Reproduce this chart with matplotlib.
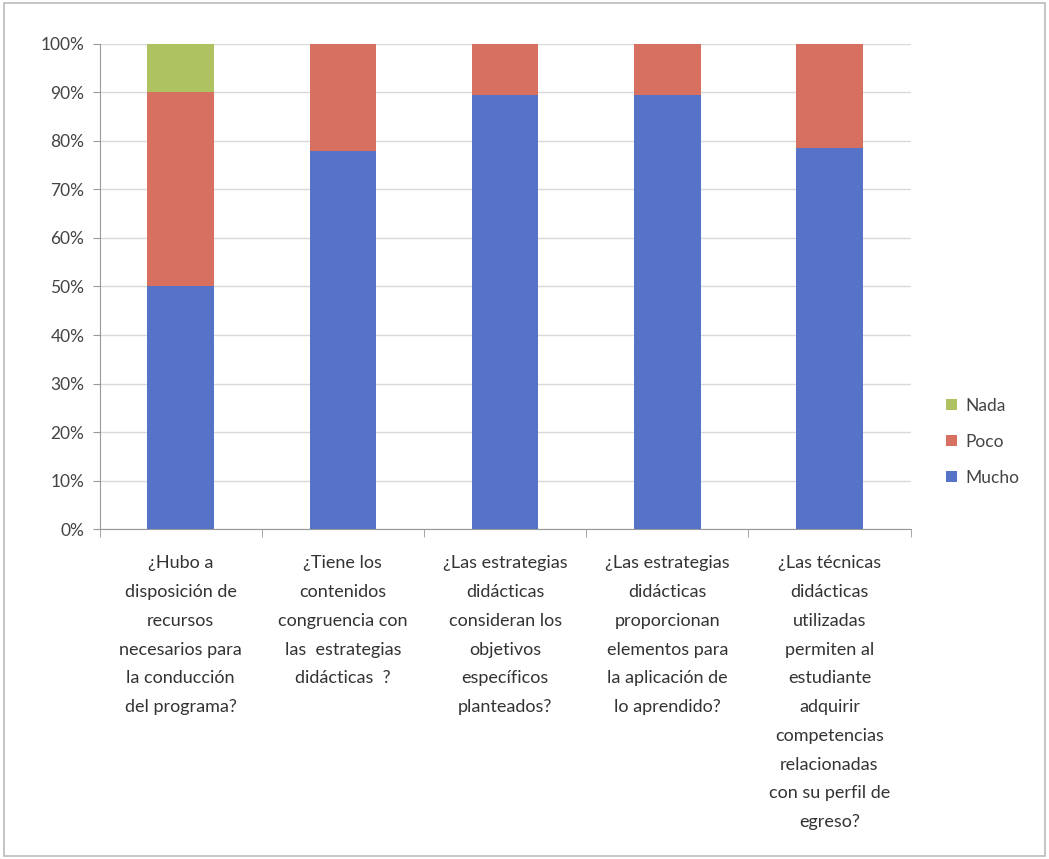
import numpy as np
import matplotlib
matplotlib.use('Agg')
from matplotlib import pyplot as plt
from matplotlib.patches import Rectangle

plt.rcParams['font.family'] = ['Lato', 'DejaVu Sans']

preguntas = ['¿Hubo a\ndisposición de\nrecursos\nnecesarios para\nla conducción\ndel programa?',
             '¿Tiene los\ncontenidos\ncongruencia con\nlas  estrategias\ndidácticas  ?',
             '¿Las estrategias\ndidácticas\nconsideran los\nobjetivos\nespecíficos\nplanteados?',
             '¿Las estrategias\ndidácticas\nproporcionan\nelementos para\nla aplicación de\nlo aprendido?',
             '¿Las técnicas\ndidácticas\nutilizadas\npermiten al\nestudiante\nadquirir\ncompetencias\nrelacionadas\ncon su perfil de\negreso?']
mucho = [50, 78, 89.5, 89.5, 78.5]
poco = [40, 22, 10.5, 10.5, 21.5]
nada = [10, 0, 0, 0, 0]

c_mucho = '#5673C8'
c_poco = '#D87062'
c_nada = '#AFC262'

fig = plt.figure(figsize=(10.49, 8.59), dpi=100)
fig.patches.append(Rectangle((0.004, 0.004), 0.992, 0.992, transform=fig.transFigure,
                             fill=False, edgecolor='#BBBBBB', lw=1.2))
ax = fig.add_axes([0.095, 0.384, 0.773, 0.565])

x = np.arange(len(preguntas))
w = 0.41
ax.bar(x, mucho, w, color=c_mucho, label='Mucho', zorder=3)
ax.bar(x, poco, w, bottom=mucho, color=c_poco, label='Poco', zorder=3)
ax.bar(x, nada, w, bottom=np.array(mucho) + np.array(poco), color=c_nada, label='Nada', zorder=3)

ax.set_ylim(0, 100)
ax.set_xlim(-0.5, len(preguntas) - 0.5)
ax.set_yticks(np.arange(0, 101, 10))
ax.set_yticklabels(['%d%%' % v for v in range(0, 101, 10)], fontsize=12.5, color='#444444')
ax.yaxis.grid(True, color='#D9D9D9', lw=1)
ax.set_axisbelow(True)

ax.set_xticks(x)
ax.set_xticklabels([])
ax.tick_params(axis='x', length=0)
ax.set_xticks(np.arange(-0.5, len(preguntas), 1), minor=True)
ax.tick_params(axis='x', which='minor', length=6, color='#999999')
ax.tick_params(axis='y', length=5, color='#999999', pad=6)

for s in ['top', 'right']:
    ax.spines[s].set_visible(False)
ax.spines['left'].set_color('#999999')
ax.spines['bottom'].set_color('#999999')

for i, q in enumerate(preguntas):
    ax.text(i, -5.4, q, ha='center', va='top', fontsize=13, color='#333333',
            linespacing=1.98, transform=ax.transData)

h, l = ax.get_legend_handles_labels()
ax.legend(h[::-1], l[::-1], loc='center left', bbox_to_anchor=(1.025, 0.18), frameon=False,
          fontsize=12.5, handlelength=0.6, handleheight=0.6, handletextpad=0.5,
          labelspacing=1.15, labelcolor='#444444')

fig.savefig('out.png', dpi=100)
